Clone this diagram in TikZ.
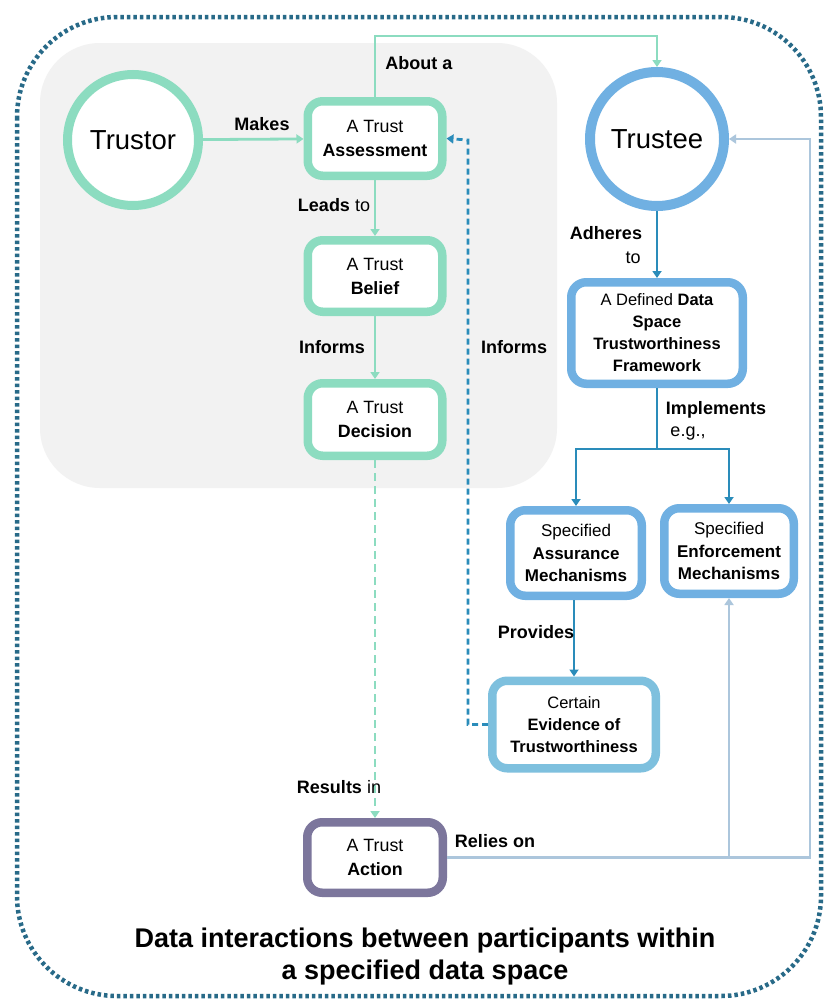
\documentclass[tikz,border=0pt]{standalone}
\usepackage{fontspec}
\setmainfont{Liberation Sans}
\usetikzlibrary{arrows.meta,calc}
\definecolor{mint}{RGB}{140,220,192}
\definecolor{tblue}{RGB}{112,176,226}
\definecolor{eblue}{RGB}{126,192,222}
\definecolor{dblue}{RGB}{42,140,186}
\definecolor{steel}{RGB}{172,198,220}
\definecolor{purp}{RGB}{124,118,156}
\definecolor{dots}{RGB}{40,106,136}
\definecolor{panel}{RGB}{242,242,242}
\begin{document}
\begin{tikzpicture}[x=1pt,y=-1pt,
  box/.style={draw, line width=8.5pt, rounded corners=15pt, fill=white, align=center,
    font=\fontsize{17.8}{24}\selectfont, inner sep=0pt},
  circ/.style={circle, draw, fill=white, inner sep=0pt, font=\fontsize{27.5}{30}\selectfont},
  lbl/.style={font=\fontsize{18}{20}\selectfont, inner sep=0pt},
  tip/.style={-{Triangle[width=9pt,length=7pt]}},
  conn/.style={line width=2.8pt, tip}
]
\useasboundingbox (0,0) rectangle (826,1001);
\fill[white] (0,0) rectangle (826,1001);
% outer dotted frame
\draw[dots, line width=4.5pt, dash pattern=on 3.5pt off 3pt, rounded corners=100pt]
  (17,17) rectangle (821,996);
% grey panel
\fill[panel, rounded corners=60pt] (40,43) rectangle (557,488);

% nodes
\node[circ, draw=mint, line width=9pt, minimum size=131pt] (trustor) at (133,140) {Trustor};
\node[circ, draw=tblue, line width=10pt, minimum size=134pt] (trustee) at (657,139) {Trustee};

\node[box, draw=mint, minimum width=134.5pt, minimum height=74.5pt] (assess) at (375,138.5)
  {A Trust\\\textbf{Assessment}};
\node[box, draw=mint, minimum width=134.5pt, minimum height=71.5pt] (belief) at (375,276)
  {A Trust\\\textbf{Belief}};
\node[box, draw=mint, minimum width=134.5pt, minimum height=72.5pt] (decision) at (375,419.5)
  {A Trust\\\textbf{Decision}};
\node[box, draw=purp, minimum width=135.5pt, minimum height=70.5pt] (action) at (375,857.5)
  {A Trust\\\textbf{Action}};
\node[box, draw=tblue, minimum width=171.5pt, minimum height=101.5pt,
  font=\fontsize{16.5}{22}\selectfont] (frame) at (657,333)
  {A Defined \textbf{Data}\\\textbf{Space}\\\textbf{Trustworthiness}\\\textbf{Framework}};
\node[box, draw=tblue, minimum width=131.5pt, minimum height=85.5pt,
  font=\fontsize{17}{22.5}\selectfont] (assur) at (576,553)
  {Specified\\\textbf{Assurance}\\\textbf{Mechanisms}};
\node[box, draw=tblue, minimum width=129.5pt, minimum height=85.5pt,
  font=\fontsize{17}{22.5}\selectfont] (enforce) at (729,551)
  {Specified\\\textbf{Enforcement}\\\textbf{Mechanisms}};
\node[box, draw=eblue, minimum width=163.5pt, minimum height=87.5pt,
  font=\fontsize{16.5}{22}\selectfont] (evid) at (574,724.5)
  {Certain\\\textbf{Evidence of}\\\textbf{Trustworthiness}};

% helper coordinates
\coordinate (top) at (500,36);
\coordinate (split) at (657,449);
\coordinate (dx) at (468,140);
\coordinate (rr) at (810,857.5);

% connectors
\draw[conn, mint] (trustor) -- (assess);
\draw[conn, mint] (assess.north) |- (top) -| (trustee.north);
\draw[conn, mint] (assess) -- (belief);
\draw[conn, mint] (belief) -- (decision);
\draw[conn, mint, dash pattern=on 8pt off 5pt] (decision) -- (action);
\draw[conn, dblue, dash pattern=on 6pt off 4pt] (evid.west) -| (dx) -- (assess.east);
\draw[conn, dblue] (trustee) -- (frame);
\draw[line width=2.8pt, dblue] (frame.south) -- (split);
\draw[conn, dblue] (split) -| (assur.north);
\draw[conn, dblue] (split) -| (enforce.north);
\draw[conn, dblue] (assur.south -| evid.north) -- (evid.north);
\draw[conn, steel, line width=2.5pt] (action.east) -- (rr) |- (trustee.east);
\draw[conn, steel, line width=2.5pt] (enforce.south |- action.east) -- (enforce.south);

% labels
\node[lbl] (lmakes) at (262,124) {\textbf{Makes}};
\node[lbl] (labout) at (419,63) {\textbf{About a}};
\node[lbl] (lleads) at (334,205) {\textbf{Leads} to};
\node[lbl] (linf1) at (332,347) {\textbf{Informs}};
\node[lbl] (linf2) at (514,347) {\textbf{Informs}};
\node[lbl] (ladh) at (606,233) {\textbf{Adheres}};
\node[lbl] (lto) at (633,258) {to};
\node[lbl] (limpl) at (716,410) {\textbf{Implements}};
\node[lbl] (leg) at (688,434) {e.g.,};
\node[lbl] (lprov) at (536,632) {\textbf{Provides}};
\node[lbl] (lres) at (339,787) {\textbf{Results} in};
\node[lbl] (lrel) at (495,841) {\textbf{Relies on}};

\node[font=\fontsize{27}{32}\selectfont\bfseries, align=center, inner sep=0pt] (title) at (425,957)
  {Data interactions between participants within\\a specified data space};
\end{tikzpicture}
\end{document}
